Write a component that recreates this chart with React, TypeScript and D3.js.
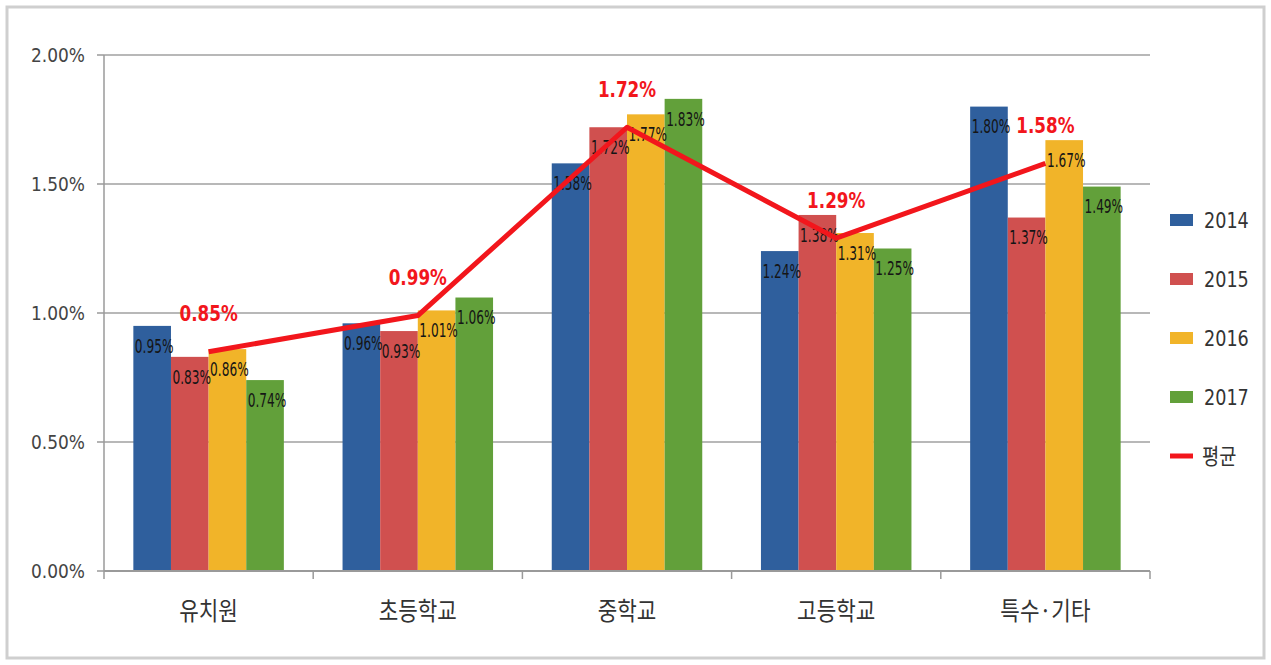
import * as React from 'react';
import * as d3 from 'd3';

// 학교급별 비율 (2014~2017) 및 평균
const categories = ['유치원', '초등학교', '중학교', '고등학교', '특수·기타'];
const years = ['2014', '2015', '2016', '2017'];
const v2014 = [0.95, 0.96, 1.58, 1.24, 1.80];
const v2015 = [0.83, 0.93, 1.72, 1.38, 1.37];
const v2016 = [0.86, 1.01, 1.77, 1.31, 1.67];
const v2017 = [0.74, 1.06, 1.83, 1.25, 1.49];
const average = [0.85, 0.99, 1.72, 1.29, 1.58];
const yTicks = [0, 0.5, 1.0, 1.5, 2.0];

const seriesValues = [v2014, v2015, v2016, v2017];
const colors = ['#2f5f9d', '#d0504f', '#f1b429', '#62a03a'];
const lineColor = '#f2161c';

const W = 1271;
const H = 665;
const margin = { left: 104, right: 121, top: 55, bottom: 94 };

const sans = '"DejaVu Sans", "Noto Sans", sans-serif';
const kfont = '"Noto Sans CJK KR", "Noto Sans", sans-serif';

// condensed text: horizontal squeeze like the narrow font of the original
function Cond(props: { x: number; y: number; sx: number; anchor?: string; size: number; fill: string; weight?: string; family?: string; children: string }) {
    return (
        <text transform={`translate(${props.x},${props.y}) scale(${props.sx},1)`}
            dy="0.35em" textAnchor={props.anchor || 'middle'} fontFamily={props.family || sans}
            fontSize={props.size} fontWeight={props.weight || 'normal'} fill={props.fill}>{props.children}</text>
    );
}

export default function App() {
    const x = d3.scaleBand<string>()
        .domain(categories)
        .range([margin.left, W - margin.right]);
    const y = d3.scaleLinear().domain([0, 2]).range([H - margin.bottom, margin.top]);
    const inner = d3.scaleBand<string>()
        .domain(years)
        .range([0, x.bandwidth()])
        .paddingOuter(0.78)
        .paddingInner(0);

    const cx = (i: number) => (x(categories[i]) as number) + x.bandwidth() / 2;
    const line = d3.line<number>()
        .x((d, i) => cx(i))
        .y((d) => y(d));

    const x0 = margin.left;
    const x1 = W - margin.right;

    return (
        <svg width={W} height={H} style={{ position: 'absolute', left: 0, top: 0, display: 'block' }}>
            <rect x={0} y={0} width={W} height={H} fill="#fff" />
            <rect x={7} y={7} width={W - 14} height={H - 14} fill="none" stroke="#cfcfcf" strokeWidth={3} />

            {/* grid */}
            {yTicks.map((t) => (
                <g key={'g' + t}>
                    {t > 0 && <line x1={x0} x2={x1} y1={y(t)} y2={y(t)} stroke="#b8b8b8" strokeWidth={2} />}
                    <line x1={x0 - 7} x2={x0} y1={y(t)} y2={y(t)} stroke="#9a9a9a" strokeWidth={1.5} />
                    <Cond x={x0 - 19} y={y(t)} sx={0.85} anchor="end" size={20} fill="#444">{t.toFixed(2) + '%'}</Cond>
                </g>
            ))}

            {/* bars */}
            {seriesValues.map((vals, s) => (
                <g key={'s' + s}>
                    {vals.map((v, i) => (
                        <rect key={i}
                            x={(x(categories[i]) as number) + (inner(years[s]) as number)}
                            y={y(v)}
                            width={inner.bandwidth()}
                            height={y(0) - y(v)}
                            fill={colors[s]} />
                    ))}
                </g>
            ))}

            {/* axes */}
            <line x1={x0} x2={x0} y1={margin.top} y2={y(0)} stroke="#9a9a9a" strokeWidth={1.5} />
            <line x1={x0} x2={x1} y1={y(0)} y2={y(0)} stroke="#9a9a9a" strokeWidth={2} />
            {categories.concat(['end']).map((c, i) => {
                const px = x0 + i * x.bandwidth();
                return <line key={'t' + i} x1={px} x2={px} y1={y(0)} y2={y(0) + 8} stroke="#9a9a9a" strokeWidth={1.5} />;
            })}
            {categories.map((c, i) => (
                <Cond key={'c' + c} x={cx(i)} y={611} sx={0.85} size={25} fill="#333" family={kfont}>{c}</Cond>
            ))}

            {/* bar labels */}
            {seriesValues.map((vals, s) => (
                <g key={'l' + s}>
                    {vals.map((v, i) => (
                        <Cond key={i}
                            x={(x(categories[i]) as number) + (inner(years[s]) as number) + inner.bandwidth() / 2 + 2}
                            y={y(v) + 20}
                            sx={0.64}
                            size={19}
                            fill="#151515">{v.toFixed(2) + '%'}</Cond>
                    ))}
                </g>
            ))}

            {/* average line */}
            <path d={line(average) as string} fill="none" stroke={lineColor} strokeWidth={5} strokeLinejoin="round" />
            {average.map((v, i) => (
                <Cond key={'a' + i} x={cx(i)} y={y(v) - 38} sx={0.8} size={21} weight="bold" fill={lineColor}>
                    {v.toFixed(2) + '%'}
                </Cond>
            ))}

            {/* legend */}
            {years.map((yr, i) => (
                <g key={'lg' + yr}>
                    <rect x={1170} y={220 + i * 59 - 6} width={23} height={12} fill={colors[i]} />
                    <Cond x={1204} y={220 + i * 59} sx={0.8} anchor="start" size={22} fill="#333">{yr}</Cond>
                </g>
            ))}
            <line x1={1170} x2={1193} y1={220 + 4 * 59} y2={220 + 4 * 59} stroke={lineColor} strokeWidth={5} />
            <Cond x={1202} y={220 + 4 * 59} sx={0.85} anchor="start" size={22} fill="#333" family={kfont}>평균</Cond>
        </svg>
    );
}
